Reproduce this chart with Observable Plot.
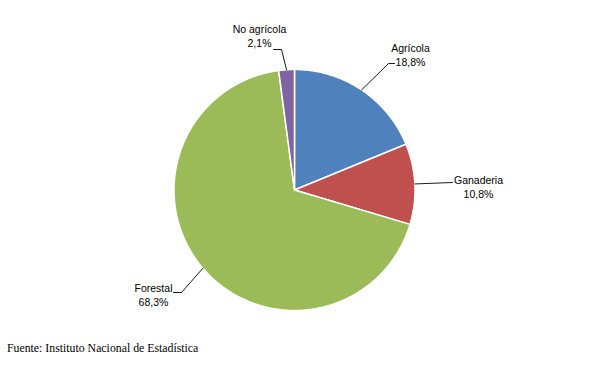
<!DOCTYPE html>
<html><head><meta charset="utf-8">
<script src="https://cdn.jsdelivr.net/npm/d3@7"></script>
<script src="https://cdn.jsdelivr.net/npm/@observablehq/plot@0.6"></script>
<style>
body{margin:0;background:#fff;}
#cap{font-family:"Liberation Serif","Times New Roman",serif;font-size:11.8px;font-weight:normal;color:#000;margin:0 0 0 7px;line-height:20px;}
</style>
</head><body><div id="chart"></div><div id="cap"></div>
<script>
// ---- data ----
const categories = ["Agrícola", "Ganaderia", "Forestal", "No agrícola"];
const values = [18.8, 10.8, 68.3, 2.1];
const valueLabels = ["18,8%", "10,8%", "68,3%", "2,1%"];
const colors = ["#4F81BD", "#C0504D", "#9BBB59", "#8064A2"];
const sourceText = "Fuente: Instituto Nacional de Estadística";

// ---- layout (pixels) ----
const W = 605, H = 338;
const R = 120.5, CX = 294, CY = 189.5;
const toU = ([px, py]) => [(px - CX) / R, (CY - py) / R];
// label block centres and leader elbows/ends, per category order
const labelPos = [[410, 54], [478, 186], [153, 294], [259, 35]];
const leaderPts = [
  [[388, 63], [394, 63]],
  [[452, 182]],
  [[181, 292], [173, 292]],
  [[281, 49], [273, 49]]
];

const arcs = d3.pie().sort(null)(values);
const slicePts = [];
arcs.forEach((a, i) => {
  slicePts.push({cat: categories[i], x: 0, y: 0});
  const n = Math.max(4, Math.ceil((a.endAngle - a.startAngle) / 0.01));
  for (let k = 0; k <= n; k++) {
    const t = a.startAngle + (a.endAngle - a.startAngle) * k / n;
    slicePts.push({cat: categories[i], x: Math.sin(t), y: Math.cos(t)});
  }
});

const leaders = [];
arcs.forEach((a, i) => {
  const m = (a.startAngle + a.endAngle) / 2;
  leaders.push({cat: categories[i], x: Math.sin(m), y: Math.cos(m)});
  leaderPts[i].forEach(p => { const [x, y] = toU(p); leaders.push({cat: categories[i], x, y}); });
});

const labels = categories.map((c, i) => {
  const [x, y] = toU(labelPos[i]);
  return {x, y, text: c + "\n" + valueLabels[i]};
});

const chart = Plot.plot({
  width: W, height: H,
  marginTop: 0, marginRight: 0, marginBottom: 0, marginLeft: 0,
  x: {domain: [-1, 1], range: [CX - R, CX + R], axis: null},
  y: {domain: [-1, 1], range: [CY + R, CY - R], axis: null},
  color: {domain: categories, range: colors},
  style: {background: "#fff"},
  marks: [
    Plot.line(slicePts, {x: "x", y: "y", z: "cat", fill: "cat", stroke: "#fff", strokeWidth: 1.5, curve: "linear-closed"}),
    Plot.line(leaders, {x: "x", y: "y", z: "cat", stroke: "#000", strokeWidth: 0.9}),
    Plot.text(labels, {x: "x", y: "y", text: "text", lineAnchor: "middle", textAnchor: "middle",
      fontSize: 10.5, lineHeight: 1.3, fontFamily: "Liberation Sans, Arial, sans-serif", fill: "#000"})
  ]
});
document.getElementById("chart").appendChild(chart);
document.getElementById("cap").textContent = sourceText;
</script>
</body></html>
